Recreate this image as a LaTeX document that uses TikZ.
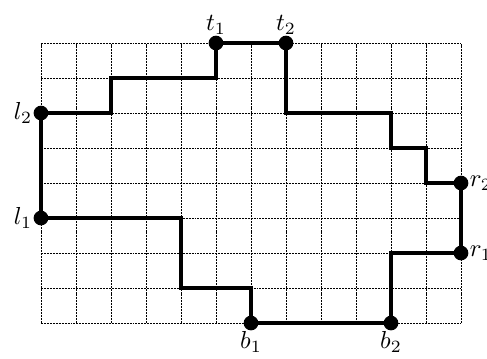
\documentclass[tikz,border=0pt]{standalone}
\usepackage{tikz}
\tikzset{
  gridline/.style={line width=0.4pt,dash pattern=on 1.6pt off 0.8pt},
  route/.style={line width=2.8pt,line join=miter},
  pt/.style={circle,fill=black,inner sep=0pt,minimum size=0.42cm},
  lab/.style={scale=2,inner sep=0.3pt},
}
\begin{document}
\begin{tikzpicture}[label distance=0pt]
  \useasboundingbox (-1.171,-1) rectangle (12.743,9.229);
  \draw[gridline] (0,0) grid (12,8);
  % end points on the border
  \coordinate (l1) at (0,3);
  \coordinate (l2) at (0,6);
  \coordinate (t1) at (5,8);
  \coordinate (t2) at (7,8);
  \coordinate (r1) at (12,2);
  \coordinate (r2) at (12,4);
  \coordinate (b1) at (6,0);
  \coordinate (b2) at (10,0);
  \draw[route] (l2) -| (2,7) -| (t1) -- (t2) |- (10,6) |- (11,5) |- (r2)
    -- (r1) -| (b2) -- (b1) |- (4,1) |- (l1) -- cycle;
  \node[pt,label={[lab]left:$l_1$}] (nl1) at (l1) {};
  \node[pt,label={[lab]left:$l_2$}] (nl2) at (l2) {};
  \node[pt,label={[lab]above:$t_1$}] (nt1) at (t1) {};
  \node[pt,label={[lab]above:$t_2$}] (nt2) at (t2) {};
  \node[pt,label={[lab]right:$r_1$}] (nr1) at (r1) {};
  \node[pt,label={[lab]right:$r_2$}] (nr2) at (r2) {};
  \node[pt,label={[lab]below:$b_1$}] (nb1) at (b1) {};
  \node[pt,label={[lab]below:$b_2$}] (nb2) at (b2) {};
\end{tikzpicture}
\end{document}
